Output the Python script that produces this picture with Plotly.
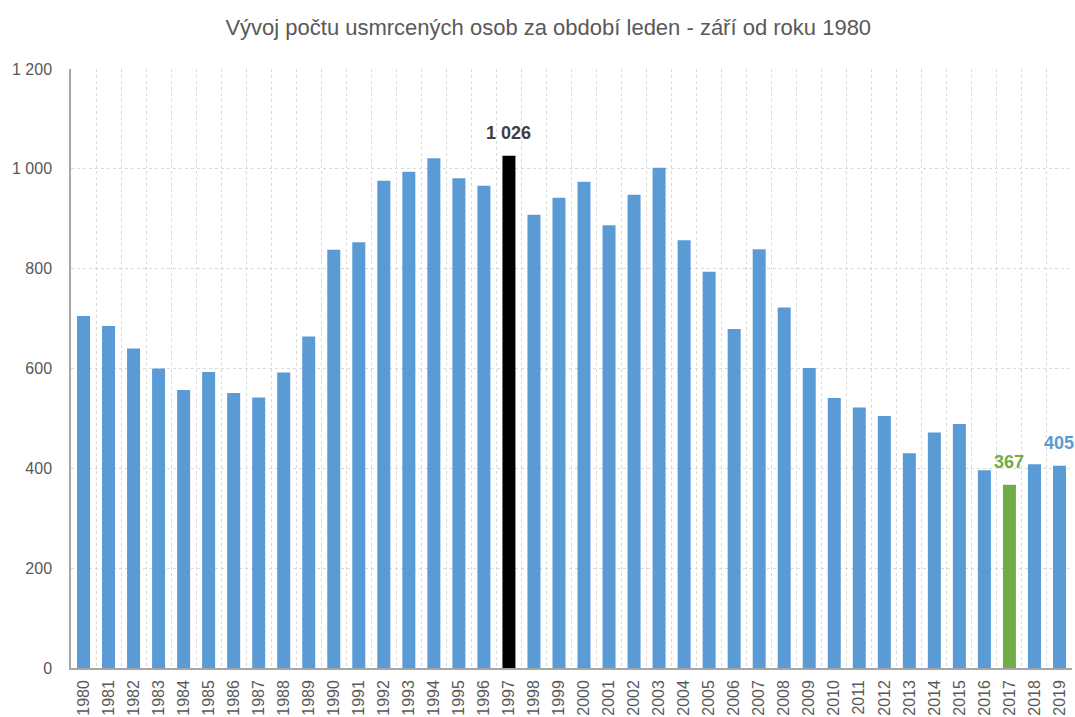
import plotly.graph_objects as go

# ── Data ──────────────────────────────────────────────────────────────────────
years = [str(y) for y in range(1980, 2020)]
killed = [705, 685, 640, 600, 557, 593, 551, 542, 592, 664,
          838, 853, 976, 994, 1021, 981, 966, 1026, 908, 942,
          974, 887, 948, 1002, 857, 794, 679, 839, 722, 601,
          541, 522, 505, 430, 472, 489, 396, 367, 408, 405]
highlight_years = ["1997", "2017", "2019"]
y_ticks = [0, 200, 400, 600, 800, 1000, 1200]

# ── Colours ──────────────────────────────────────────────────────────────────
C_BLUE = "#5B9BD5"
C_GREEN = "#70AD47"
C_BLACK = "#000000"
C_TEXT = "#595959"
C_GRID = "#D9D9D9"
FONT = "Liberation Sans Narrow, Arial Narrow, Liberation Sans, Arial"

# bar colour, label colour
special = {"1997": (C_BLACK, "#404040"), "2017": (C_GREEN, C_GREEN), "2019": (C_BLUE, C_BLUE)}

bar_colors = [special[y][0] if y in special else C_BLUE for y in years]

fig = go.Figure()
fig.add_trace(go.Bar(
    x=years, y=killed,
    marker=dict(color=bar_colors, line=dict(width=0)),
    hoverinfo="x+y",
))

# ── Value labels for highlighted years ───────────────────────────────────────
# category axis: annotation x given as category index
for y in highlight_years:
    i = years.index(y)
    v = killed[i]
    fig.add_annotation(
        x=i, y=v,
        text=f"{v:,}".replace(",", " "),
        showarrow=False,
        yanchor="middle", yshift=23,
        font=dict(family=FONT, size=18, color=special[y][1], weight="bold"),
    )

fig.update_layout(
    width=1075, height=717,
    paper_bgcolor="white", plot_bgcolor="white",
    margin=dict(l=71, r=3, t=69, b=49, autoexpand=False),
    separators=", ",
    bargap=0.48,
    showlegend=False,
    title=dict(
        text="Vývoj počtu usmrcených osob za období leden - září od roku 1980",
        x=0.51, xanchor="center", y=0.962, yanchor="middle",
        font=dict(family=FONT, size=22, color=C_TEXT),
    ),
    font=dict(family=FONT, color=C_TEXT),
    xaxis=dict(
        type="category",
        tickson="boundaries",
        ticks="",
        tickangle=-90,
        automargin=False,
        ticklabelstandoff=4,
        tickfont=dict(size=16, color=C_TEXT),
        showgrid=True, gridcolor=C_GRID, griddash="dot", gridwidth=1,
        showline=True, linecolor="#A6A6A6", linewidth=1.5,
        range=[-0.5, 39.5],
    ),
    yaxis=dict(
        range=[0, 1200],
        tickvals=y_ticks,
        tickformat=",d",
        automargin=False,
        ticklabelstandoff=14,
        tickfont=dict(size=16, color=C_TEXT),
        showgrid=True, gridcolor=C_GRID, griddash="dot", gridwidth=1,
        showline=True, linecolor="#A6A6A6", linewidth=1.5,
        zeroline=False,
        ticks="",
    ),
)

# page body has a default 8px margin; drop it so the figure fills the window
fig.write_html(
    "out.html",
    config={"displayModeBar": False},
    post_script="document.body.style.margin='0px';",
)
